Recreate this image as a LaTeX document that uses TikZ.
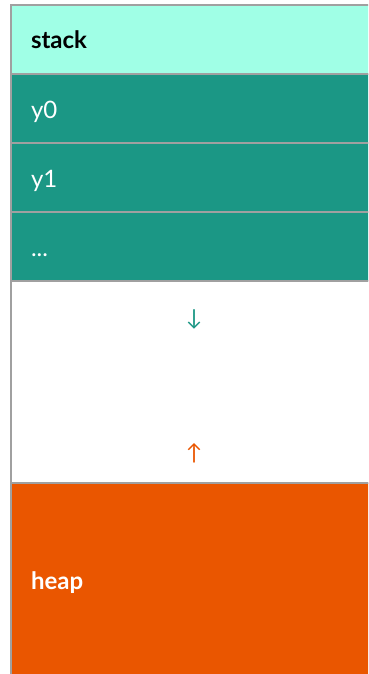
\documentclass[tikz,border=0pt]{standalone}
\usepackage{fontspec}
\setmainfont{Lato}
\usetikzlibrary{positioning,calc}
\definecolor{stackmint}{HTML}{A0FFE6}
\definecolor{frameteal}{HTML}{1B9785}
\definecolor{heaporange}{HTML}{EA5600}
\definecolor{rulegray}{HTML}{A0A0A0}

\begin{document}
\begin{tikzpicture}[x=1pt,y=-1pt,
    cell/.style={draw=rulegray,line width=2pt,outer sep=0pt,
      minimum width=366pt,minimum height=69pt,text width=326pt,
      text height=19pt,text depth=0pt,
      inner xsep=20pt,align=left,font=\fontsize{24}{28}\selectfont},
    glyph/.style={font=\fontsize{22}{26}\selectfont}]
  \useasboundingbox (0,0) rectangle (368,674);
  \clip (0,0) rectangle (368,674);
  \node[cell,fill=stackmint,anchor=north west] (stack) at (11,5) {\textbf{stack}};
  \node[cell,fill=frameteal,text=white,below=0pt of stack] (yzero) {y0};
  \node[cell,fill=frameteal,text=white,below=0pt of yzero] (yone) {y1};
  \node[cell,fill=frameteal,text=white,below=0pt of yone] (more) {...};
  \node[cell,fill=white,minimum height=202pt,below=0pt of more] (gap) {};
  \node[cell,fill=heaporange,text=white,minimum height=194pt,below=0pt of gap] (heap) {\textbf{heap}};
  % growth directions
  \node[glyph,text=frameteal] (down) at ($(gap.north)+(0,38)$) {↓};
  \node[glyph,text=heaporange] (up) at ($(gap.south)+(0,-30)$) {↑};
\end{tikzpicture}
\end{document}
